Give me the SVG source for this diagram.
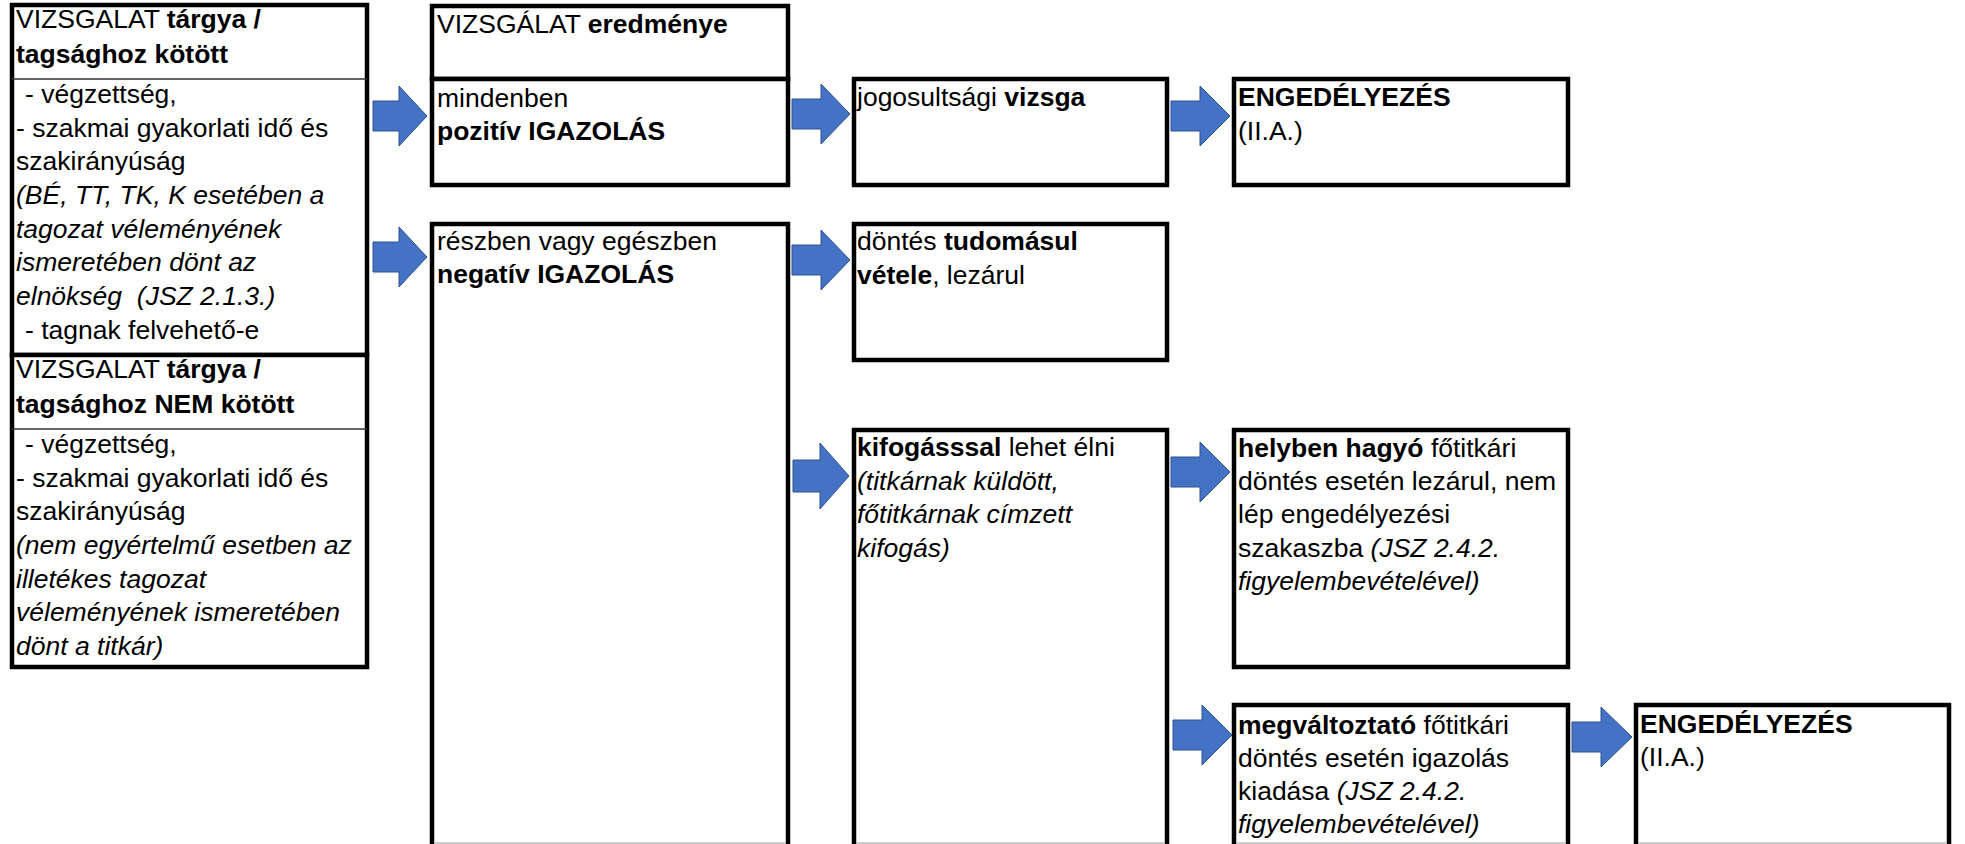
<svg xmlns="http://www.w3.org/2000/svg" width="1965" height="844" viewBox="0 0 1965 844">
<style>
text{font-family:"Liberation Sans",Arial,sans-serif;font-size:26.5px;fill:#000}
.b{font-weight:bold}
.i{font-style:italic}
.box{fill:#fff;stroke:#000;stroke-width:4.5}
.open{fill:none;stroke:#000;stroke-width:4.5}
.thin{stroke:#333;stroke-width:1.5}
.gray{stroke:#bbb;stroke-width:1.5}
.arr{fill:#4472C4;stroke:#2F528F;stroke-width:1}
</style>
<rect width="1965" height="844" fill="#fff"/>

<g id="targy-kotott">
<rect class="box" x="12" y="5" width="355" height="350"/>
<line class="thin" x1="12" y1="79" x2="367" y2="79"/>
<text x="16" y="28">VIZSGALAT <tspan class="b">tárgya /</tspan></text>
<text x="16" y="63" class="b">tagsághoz kötött</text>
<text x="25" y="103">- végzettség,</text>
<text x="16" y="137">- szakmai gyakorlati idő és</text>
<text x="16" y="170">szakirányúság</text>
<text x="16" y="204" class="i">(BÉ, TT, TK, K esetében a</text>
<text x="16" y="238" class="i">tagozat véleményének</text>
<text x="16" y="271" class="i">ismeretében dönt az</text>
<text x="16" y="305" class="i" xml:space="preserve">elnökség  (JSZ 2.1.3.)</text>
<text x="25" y="339">- tagnak felvehető-e</text>
</g>

<g id="targy-nem-kotott">
<rect class="box" x="12" y="355" width="355" height="312"/>
<line class="thin" x1="12" y1="429" x2="367" y2="429"/>
<text x="16" y="378">VIZSGALAT <tspan class="b">tárgya /</tspan></text>
<text x="16" y="413" class="b">tagsághoz NEM kötött</text>
<text x="25" y="453">- végzettség,</text>
<text x="16" y="487">- szakmai gyakorlati idő és</text>
<text x="16" y="520">szakirányúság</text>
<text x="16" y="554" class="i">(nem egyértelmű esetben az</text>
<text x="16" y="588" class="i">illetékes tagozat</text>
<text x="16" y="621" class="i">véleményének ismeretében</text>
<text x="16" y="655" class="i">dönt a titkár)</text>
</g>

<g id="eredmenye">
<rect class="box" x="432" y="6" width="356" height="73"/>
<text x="437" y="33">VIZSGÁLAT <tspan class="b">eredménye</tspan></text>
</g>

<g id="pozitiv">
<rect class="box" x="432" y="79" width="356" height="106"/>
<text x="437" y="107">mindenben</text>
<text x="437" y="140" class="b">pozitív IGAZOLÁS</text>
</g>

<g id="negativ">
<path class="open" d="M432,846 V224 H788 V846"/>
<line class="gray" x1="434" y1="843" x2="786" y2="843"/>
<text x="437" y="250">részben vagy egészben</text>
<text x="437" y="283" class="b">negatív IGAZOLÁS</text>
</g>

<g id="vizsga">
<rect class="box" x="854" y="79" width="313" height="106"/>
<text x="857" y="106">jogosultsági <tspan class="b">vizsga</tspan></text>
</g>

<g id="tudomasul">
<rect class="box" x="854" y="224" width="313" height="136"/>
<text x="857" y="250">döntés <tspan class="b">tudomásul</tspan></text>
<text x="857" y="284"><tspan class="b">vétele</tspan>, lezárul</text>
</g>

<g id="kifogas">
<path class="open" d="M854,846 V430 H1167 V846"/>
<line class="gray" x1="856" y1="843" x2="1165" y2="843"/>
<text x="857" y="456"><tspan class="b">kifogásssal</tspan> lehet élni</text>
<text x="857" y="490" class="i">(titkárnak küldött,</text>
<text x="857" y="523" class="i">főtitkárnak címzett</text>
<text x="857" y="557" class="i">kifogás)</text>
</g>

<g id="engedelyezes-1">
<rect class="box" x="1234" y="79" width="334" height="106"/>
<text x="1238" y="106" class="b">ENGEDÉLYEZÉS</text>
<text x="1238" y="140">(II.A.)</text>
</g>

<g id="helyben-hagyo">
<rect class="box" x="1234" y="430" width="334" height="237"/>
<text x="1238" y="457"><tspan class="b">helyben hagyó</tspan> főtitkári</text>
<text x="1238" y="490">döntés esetén lezárul, nem</text>
<text x="1238" y="523">lép engedélyezési</text>
<text x="1238" y="557">szakaszba <tspan class="i">(JSZ 2.4.2.</tspan></text>
<text x="1238" y="590" class="i">figyelembevételével)</text>
</g>

<g id="megvaltoztato">
<path class="open" d="M1234,846 V705 H1568 V846"/>
<line class="gray" x1="1236" y1="843" x2="1566" y2="843"/>
<text x="1238" y="734"><tspan class="b">megváltoztató</tspan> főtitkári</text>
<text x="1238" y="767">döntés esetén igazolás</text>
<text x="1238" y="800">kiadása <tspan class="i">(JSZ 2.4.2.</tspan></text>
<text x="1238" y="833" class="i">figyelembevételével)</text>
</g>

<g id="engedelyezes-2">
<path class="open" d="M1636,846 V705 H1949 V846"/>
<line class="gray" x1="1638" y1="843" x2="1947" y2="843"/>
<text x="1640" y="733" class="b">ENGEDÉLYEZÉS</text>
<text x="1640" y="766">(II.A.)</text>
</g>

<g id="connectors">
<polygon class="arr" points="373,101 399,101 399,86 427,116 399,146 399,131 373,131"/>
<polygon class="arr" points="373,242 399,242 399,227 427,257 399,287 399,272 373,272"/>
<polygon class="arr" points="792,99 821,99 821,84 850,114 821,144 821,129 792,129"/>
<polygon class="arr" points="792,245 821,245 821,230 850,260 821,290 821,275 792,275"/>
<polygon class="arr" points="1171,101 1200,101 1200,86 1230,116 1200,146 1200,131 1171,131"/>
<polygon class="arr" points="793,460 820,460 820,443 849,476 820,509 820,492 793,492"/>
<polygon class="arr" points="1171,457 1200,457 1200,442 1230,472 1200,502 1200,487 1171,487"/>
<polygon class="arr" points="1173,720 1202,720 1202,705 1232,735 1202,765 1202,750 1173,750"/>
<polygon class="arr" points="1572,722 1601,722 1601,707 1632,737 1601,767 1601,752 1572,752"/>
</g>
</svg>
